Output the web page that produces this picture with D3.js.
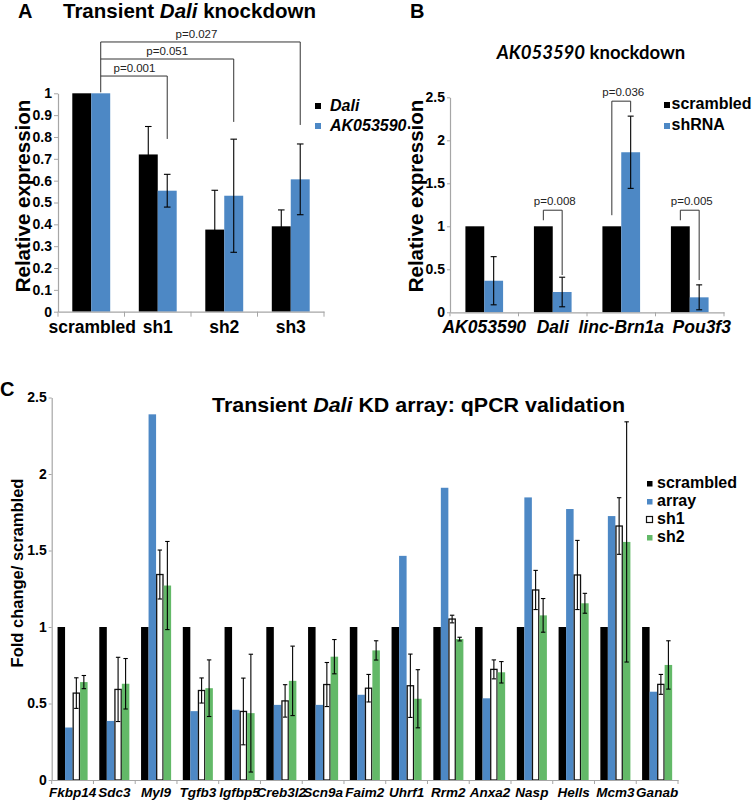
<!DOCTYPE html>
<html><head><meta charset="utf-8">
<script src="https://cdn.jsdelivr.net/npm/d3@7"></script>
<style>
body{margin:0;background:#fff}
svg{display:block}
text{font-family:"Liberation Sans",Arial,Helvetica,sans-serif}
</style>
</head><body>
<svg id="chart" width="753" height="804"></svg>
<script>
// ---------------- Panel A data ----------------
const aCategories = ["scrambled","sh1","sh2","sh3"];
const aSeries = ["Dali","AK053590"];
const aDali = [1,0.72,0.376,0.391];
const aDaliErr = [0,0.128,0.18,0.075];
const aAK = [1,0.554,0.531,0.606];
const aAKErr = [0,0.075,0.259,0.162];
const aTicks = [0,0.1,0.2,0.3,0.4,0.5,0.6,0.7,0.8,0.9,1];
const aPLabels = ["p=0.001","p=0.051","p=0.027"];
const aPTargets = ["sh1","sh2","sh3"];
const aPLevels = [1.079,1.157,1.235];     // bracket heights (data units)
const aPLegEnds = [0.791,0.869,0.855];    // right leg ends (data units)

// ---------------- Panel B data ----------------
const bCategories = ["AK053590","Dali","linc-Brn1a","Pou3f3"];
const bSeries = ["scrambled","shRNA"];
const bScrambled = [1,1,1,1];
const bShRNA = [0.367,0.236,1.861,0.174];
const bShRNAErr = [0.28,0.172,0.42,0.145];
const bTicks = [0,0.5,1,1.5,2,2.5];
const bPLabels = ["p=0.008","p=0.036","p=0.005"];
const bPTargets = ["Dali","linc-Brn1a","Pou3f3"];
const bPLevels = [1.187,2.455,1.187];
const bPLeftEnds = [1.07,1.129,1.07];
const bPRightEnds = [0.433,2.327,0.375];

// ---------------- Panel C data ----------------
const cCategories = ["Fkbp14","Sdc3","Myl9","Tgfb3","Igfbp5","Creb3l2","Scn9a","Faim2","Uhrf1","Rrm2","Anxa2","Nasp","Hells","Mcm3","Ganab"];
const cSeries = ["scrambled","array","sh1","sh2"];
const cScrambled = [1,1,1,1,1,1,1,1,1,1,1,1,1,1,1];
const cArray = [0.343,0.386,2.39,0.45,0.459,0.491,0.491,0.557,1.465,1.91,0.534,1.847,1.771,1.725,0.577];
const cSh1 = [0.568,0.592,1.343,0.585,0.448,0.517,0.624,0.6,0.616,1.052,0.723,1.242,1.34,1.66,0.625];
const cSh1Err = [0.1,0.21,0.16,0.082,0.218,0.106,0.144,0.09,0.207,0.025,0.062,0.128,0.226,0.185,0.065];
const cSh2 = [0.64,0.629,1.271,0.6,0.437,0.648,0.806,0.847,0.531,0.921,0.704,1.076,1.155,1.556,0.752];
const cSh2Err = [0.043,0.165,0.288,0.185,0.385,0.227,0.112,0.063,0.19,0.012,0.07,0.11,0.065,0.785,0.158];
const cTicks = [0,0.5,1,1.5,2,2.5];

// ---------------- styles ----------------
const BLUE = "#4d88c5", GREEN = "#63b968", AXIS = "#a6a6a6", BLACK = "#000";
const svg = d3.select("#chart");

function panel(cfg){
  const g = svg.append("g");
  const x = d3.scaleBand().domain(cfg.cats).range(cfg.xr).paddingInner(cfg.pad).paddingOuter(cfg.pad/2);
  const xs = d3.scaleBand().domain(cfg.series).range([0,x.bandwidth()]);
  const y = d3.scaleLinear().domain([0,cfg.ymax]).range(cfg.yr);
  cfg.series.forEach((s,si)=>{
    const vals = cfg.values[si];
    g.append("g").selectAll("rect").data(cfg.cats).join("rect")
      .attr("x",(c)=>x(c)+xs(s)+(cfg.strokes[si]?0.6:0))
      .attr("width",xs.bandwidth()-(cfg.strokes[si]?1.2:0))
      .attr("y",(c,i)=>y(vals[i]))
      .attr("height",(c,i)=>y(0)-y(vals[i]))
      .attr("fill",cfg.colors[si])
      .attr("stroke",cfg.strokes[si]||"none")
      .attr("stroke-width",cfg.strokes[si]?1.3:0);
  });
  cfg.series.forEach((s,si)=>{
    const errs = cfg.errs[si]; if(!errs) return;
    const vals = cfg.values[si];
    const eg = g.append("g").attr("stroke",BLACK).attr("stroke-width",1.1);
    cfg.cats.forEach((c,i)=>{
      if(!errs[i]) return;
      const cx = x(c)+xs(s)+xs.bandwidth()/2;
      const yt = y(vals[i]+errs[i]), yb = y(Math.max(0,vals[i]-errs[i]));
      eg.append("line").attr("x1",cx).attr("x2",cx).attr("y1",yt).attr("y2",yb);
      eg.append("line").attr("x1",cx-cfg.cap).attr("x2",cx+cfg.cap).attr("y1",yt).attr("y2",yt);
      eg.append("line").attr("x1",cx-cfg.cap).attr("x2",cx+cfg.cap).attr("y1",yb).attr("y2",yb);
    });
  });
  const ya = g.append("g").attr("transform",`translate(${cfg.xr[0]},0)`)
    .call(d3.axisLeft(y).tickValues(cfg.ticks).tickFormat(d=>String(d)).tickSize(cfg.tickSize).tickSizeOuter(0).tickPadding(cfg.tickPad));
  ya.select(".domain").attr("stroke",AXIS).attr("stroke-width",1.2);
  ya.selectAll(".tick line").attr("stroke",AXIS);
  ya.selectAll(".tick text").attr("fill",BLACK).attr("font-weight","bold").attr("font-size",cfg.tickFont)
    .style("font-family",'"Liberation Sans",Arial,sans-serif');
  const xa = g.append("g").attr("transform",`translate(0,${y(0)})`)
    .call(d3.axisBottom(x).tickSize(0).tickSizeOuter(0).tickPadding(cfg.xPad));
  xa.select(".domain").attr("stroke",AXIS).attr("stroke-width",1.2);
  xa.selectAll(".tick text").attr("fill",BLACK).attr("font-weight","bold").attr("font-size",cfg.xFont)
    .attr("font-style",cfg.xItalic?"italic":"normal")
    .attr("dx",(d,i)=>cfg.xShift?cfg.xShift[i]:0)
    .style("font-family",'"Liberation Sans",Arial,sans-serif');
  const bounds = cfg.cats.map(c=>x(c)-x.step()*x.paddingInner()/2).concat([cfg.xr[1]]);
  g.append("g").selectAll("line").data(bounds).join("line")
    .attr("x1",d=>d).attr("x2",d=>d).attr("y1",y(0)).attr("y2",y(0)+cfg.tickSize+1)
    .attr("stroke",AXIS);
  return {g,x,xs,y};
}

function richText(parent, parts, attrs){
  const t = parent.append("text");
  Object.entries(attrs).forEach(([k,v])=>t.attr(k,v));
  parts.forEach(p=>t.append("tspan").attr("font-style",p[1]?"italic":"normal").text(p[0]));
  return t;
}

// ================= Panel A =================
const A = panel({cats:aCategories,series:aSeries,values:[aDali,aAK],errs:[aDaliErr,aAKErr],
  colors:[BLACK,BLUE],strokes:[null,null],xr:[58,324],yr:[311.7,93.3],ymax:1,pad:0.43,
  ticks:aTicks,tickSize:4,tickPad:2,tickFont:14,xPad:9,xFont:17.5,xItalic:false,cap:3.3,xShift:[1,0,0,0]});
{
  const lx = A.x("scrambled")+A.xs("AK053590")+A.xs.bandwidth()/2;
  const bg = A.g.append("g").attr("stroke","#333").attr("stroke-width",1).attr("fill","none");
  bg.append("line").attr("x1",lx).attr("x2",lx).attr("y1",A.y(d3.max(aPLevels))).attr("y2",A.y(1)-1);
  aPTargets.forEach((t,i)=>{
    const rx = A.x(t)+A.xs("AK053590")+A.xs.bandwidth()/2;
    const yy = A.y(aPLevels[i]);
    bg.append("line").attr("x1",lx).attr("x2",rx).attr("y1",yy).attr("y2",yy);
    bg.append("line").attr("x1",rx).attr("x2",rx).attr("y1",yy).attr("y2",A.y(aPLegEnds[i]));
    A.g.append("text").attr("x",(lx+rx)/2).attr("y",yy-4)
      .attr("text-anchor","middle").attr("font-size",11.5).attr("fill","#222")
      .attr("dx", i===0?0.5:(i===1?0:-4)).text(aPLabels[i]);
  });
}
{
  const lg = svg.append("g");
  [["Dali",BLACK,105],["AK053590",BLUE,125]].forEach(([n,c,yy])=>{
    lg.append("rect").attr("x",315).attr("y",yy-2).attr("width",6).attr("height",6).attr("fill",c);
    lg.append("text").attr("x",330).attr("y",yy+5.5).attr("font-size",16).attr("font-weight","bold")
      .attr("font-style","italic").text(n);
  });
}
svg.append("text").attr("x",18).attr("y",17.5).attr("font-size",20).attr("font-weight","bold").text("A");
richText(svg,[["Transient ",0],["Dali",1],[" knockdown",0]],{x:63,y:17.5,"font-size":20.5,"font-weight":"bold"});
svg.append("text").attr("transform","translate(30,196) rotate(-90)").attr("text-anchor","middle")
  .attr("font-size",20.5).attr("font-weight","bold").text("Relative expression");

// ================= Panel B =================
const B = panel({cats:bCategories,series:bSeries,values:[bScrambled,bShRNA],errs:[null,bShRNAErr],
  colors:[BLACK,BLUE],strokes:[null,null],xr:[450,724],yr:[312.3,97.3],ymax:2.5,pad:0.45,
  ticks:bTicks,tickSize:3,tickPad:2,tickFont:14,xPad:8.5,xFont:17.5,xItalic:true,cap:3,xShift:[0,0,0,12]});
{
  const bg = B.g.append("g").attr("stroke","#333").attr("stroke-width",1).attr("fill","none");
  bPTargets.forEach((t,i)=>{
    const lx = B.x(t)+B.xs("scrambled")+B.xs.bandwidth()/2;
    const rx = B.x(t)+B.xs("shRNA")+B.xs.bandwidth()/2;
    const yy = B.y(bPLevels[i]);
    bg.append("line").attr("x1",lx).attr("x2",rx).attr("y1",yy).attr("y2",yy);
    bg.append("line").attr("x1",lx).attr("x2",lx).attr("y1",yy).attr("y2",B.y(bPLeftEnds[i]));
    bg.append("line").attr("x1",rx).attr("x2",rx).attr("y1",yy).attr("y2",B.y(bPRightEnds[i]));
    B.g.append("text").attr("x",(lx+rx)/2+2).attr("y",yy-5)
      .attr("text-anchor","middle").attr("font-size",11.5).attr("fill","#222").text(bPLabels[i]);
  });
}
{
  const lg = svg.append("g");
  [["scrambled",BLACK,103],["shRNA",BLUE,124]].forEach(([n,c,yy])=>{
    lg.append("rect").attr("x",664).attr("y",yy-1).attr("width",6).attr("height",6).attr("fill",c);
    lg.append("text").attr("x",671.5).attr("y",yy+6).attr("font-size",16).attr("font-weight","bold").text(n);
  });
}
svg.append("text").attr("x",410).attr("y",17.5).attr("font-size",20).attr("font-weight","bold").text("B");
richText(svg,[["AK053590",1],[" knockdown",0]],{x:591,y:59,"font-size":18.5,"font-weight":"bold","text-anchor":"middle"})
  .style("font-family","Lato, 'Open Sans', sans-serif");
svg.append("text").attr("transform","translate(423,196) rotate(-90)").attr("text-anchor","middle")
  .attr("font-size",20.5).attr("font-weight","bold").text("Relative expression");

// ================= Panel C =================
const C = panel({cats:cCategories,series:cSeries,values:[cScrambled,cArray,cSh1,cSh2],errs:[null,null,cSh1Err,cSh2Err],
  colors:[BLACK,BLUE,"#fff",GREEN],strokes:[null,null,"#111",null],xr:[51.7,678],yr:[780,397.5],ymax:2.5,pad:0.28,
  ticks:cTicks,tickSize:3,tickPad:2,tickFont:14,xPad:7,xFont:13.5,xItalic:true,cap:2.2});
{
  const lg = svg.append("g");
  [["scrambled",BLACK,null,482],["array",BLUE,null,500],["sh1","#fff","#111",518],["sh2",GREEN,null,536]].forEach(([n,c,s,yy])=>{
    lg.append("rect").attr("x",s?646.5:647).attr("y",s?yy-1.5:yy-1).attr("width",s?6:5.5).attr("height",s?6:5.5)
      .attr("fill",c).attr("stroke",s||"none").attr("stroke-width",1.2);
    lg.append("text").attr("x",657).attr("y",yy+5.5).attr("font-size",16).attr("font-weight","bold").text(n);
  });
}
svg.append("text").attr("x",0).attr("y",396).attr("font-size",20).attr("font-weight","bold").text("C");
richText(svg,[["Transient ",0],["Dali",1],[" KD array: qPCR validation",0]],
  {x:212,y:412,"font-size":20,"font-weight":"bold",textLength:413,lengthAdjust:"spacingAndGlyphs"});
svg.append("text").attr("transform","translate(23,573) rotate(-90)").attr("text-anchor","middle")
  .attr("font-size",16.5).attr("font-weight","bold").text("Fold change/ scrambled");
</script>
</body></html>
